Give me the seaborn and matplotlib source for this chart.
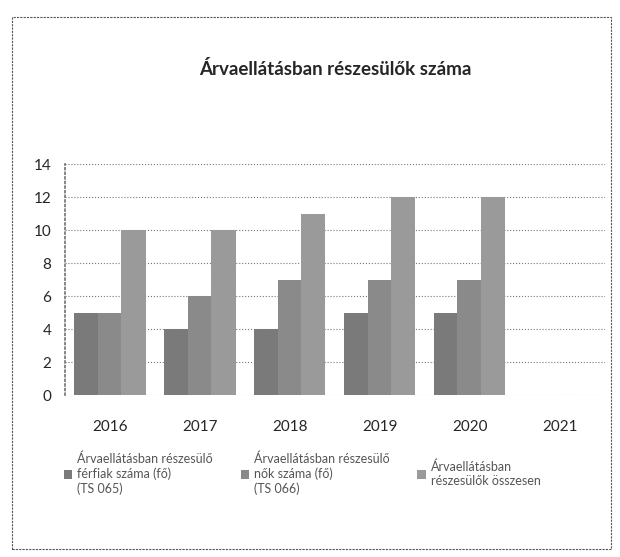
import numpy as np
import pandas as pd
import seaborn as sns
import matplotlib.pyplot as plt
from matplotlib.patches import Rectangle

years = ['2016', '2017', '2018', '2019', '2020', '2021']
ferfiak = [5, 4, 4, 5, 5, np.nan]
nok = [5, 6, 7, 7, 7, np.nan]
osszesen = [10, 10, 11, 12, 12, np.nan]
series_names = ['Árvaellátásban részesülő\nférfiak száma (fő)\n(TS 065)',
                'Árvaellátásban részesülő\nnők száma (fő)\n(TS 066)',
                'Árvaellátásban\nrészesülők összesen']

df = pd.DataFrame({'ev': years * 3,
                   'ertek': ferfiak + nok + osszesen,
                   'sor': [series_names[0]] * 6 + [series_names[1]] * 6 + [series_names[2]] * 6})

sns.set_theme(style='white')
plt.rcParams['font.family'] = ['Lato', 'DejaVu Sans']
plt.rcParams['patch.force_edgecolor'] = False

fig = plt.figure(figsize=(6.2, 5.57), dpi=100)
ax = fig.add_axes([0.105, 0.29, 0.87, 0.415])

# szürke oszlopok
szinek = ['#7a7a7a', '#8a8a8a', '#9a9a9a']
csoport = 0.78
sns.barplot(data=df, x='ev', y='ertek', hue='sor', palette=szinek, width=csoport,
            saturation=1, ax=ax)
# oszlopok egymáshoz illesztése (rés nélkül)
for cont in ax.containers:
    for p in cont.patches:
        kozep = p.get_x() + p.get_width() / 2
        p.set_width(csoport / 3 + 0.012)
        p.set_x(kozep - csoport / 6 - 0.006)
        p.set_linewidth(0)
        p.set_edgecolor('none')

ax.set_ylim(0, 14)
ax.set_yticks(range(0, 15, 2))
ax.yaxis.grid(True, linestyle=':', color='#777777', linewidth=0.8)
ax.set_axisbelow(True)
for s in ['top', 'right', 'bottom']:
    ax.spines[s].set_visible(False)
ax.spines['left'].set_linestyle(':')
ax.spines['left'].set_color('#777777')
ax.set_xlabel('')
ax.set_ylabel('')
ax.tick_params(axis='y', labelsize=11, length=0, pad=10)
ax.tick_params(axis='x', labelsize=11, length=0, pad=18)

ax.set_title('Árvaellátásban részesülők száma', fontsize=13.5, fontweight='bold', pad=64)

leg = ax.legend(loc='upper center', bbox_to_anchor=(0.44, -0.2), ncol=3, frameon=False,
                fontsize=9, handlelength=0.7, handleheight=0.7, columnspacing=2.2,
                handletextpad=0.4)
for t in leg.get_texts():
    t.set_color('#555555')

# keret a diagram körül
fig.patches.append(Rectangle((0.02, 0.015), 0.965, 0.955, transform=fig.transFigure,
                             fill=False, edgecolor='#555555', linestyle=(0, (2, 1)),
                             linewidth=0.8))

plt.savefig('out.png', dpi=100)
